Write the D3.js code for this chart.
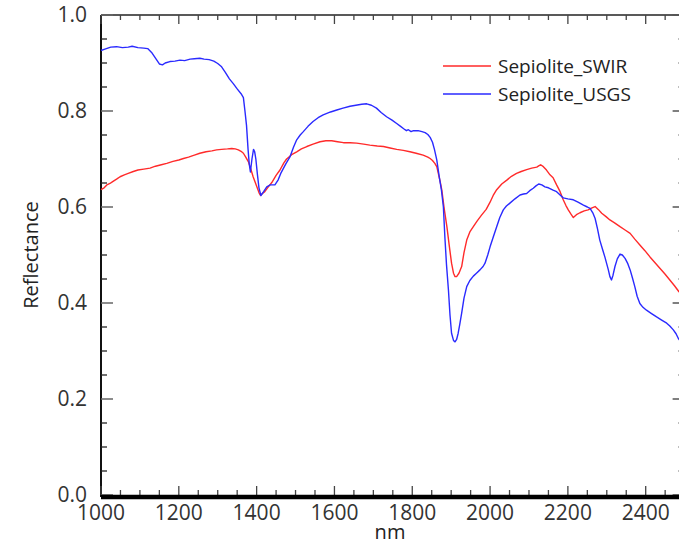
<!DOCTYPE html>
<html><head><meta charset="utf-8">
<script src="https://cdn.jsdelivr.net/npm/d3@7"></script>
<style>body{margin:0;background:#fff;}svg{display:block;}</style>
</head><body>
<script>
const seriesNames = ["Sepiolite_SWIR", "Sepiolite_USGS"];
const seriesColors = ["#ff2a2a", "#2a2aff"];
const xTicks = [1000, 1200, 1400, 1600, 1800, 2000, 2200, 2400];
const yTicks = [0.0, 0.2, 0.4, 0.6, 0.8, 1.0];

const swirNm = [1000,1008,1015,1023,1030,1040,1049,1060,1070,1083,1095,1110,1126,1140,1155,1169,1185,1200,1212,1225,1240,1254,1270,1285,1297,1310,1325,1336,1345,1353,1360,1366,1372,1379,1385,1391,1397,1402,1406,1410,1415,1421,1430,1439,1450,1460,1470,1477,1490,1503,1515,1529,1545,1563,1578,1593,1608,1623,1640,1657,1675,1691,1710,1726,1743,1760,1777,1794,1810,1828,1840,1846,1852,1858,1863,1867,1872,1876,1882,1889,1895,1901,1906,1910,1914,1920,1927,1933,1940,1948,1957,1967,1978,1990,2000,2008,2017,2030,2043,2055,2068,2080,2094,2107,2120,2126,2130,2137,2145,2154,2162,2171,2180,2188,2195,2201,2208,2214,2222,2231,2242,2252,2262,2270,2278,2287,2298,2308,2320,2334,2347,2360,2372,2385,2398,2411,2424,2437,2450,2462,2474,2485,2500];
const swirVal = [0.636,0.640,0.646,0.649,0.653,0.658,0.663,0.667,0.670,0.674,0.677,0.679,0.681,0.685,0.688,0.691,0.695,0.698,0.701,0.704,0.708,0.712,0.715,0.717,0.719,0.720,0.721,0.722,0.721,0.719,0.716,0.712,0.704,0.694,0.679,0.663,0.650,0.639,0.630,0.624,0.628,0.632,0.642,0.651,0.666,0.677,0.692,0.700,0.709,0.715,0.721,0.726,0.731,0.736,0.738,0.738,0.736,0.734,0.734,0.733,0.731,0.729,0.727,0.726,0.723,0.720,0.718,0.715,0.712,0.708,0.704,0.701,0.697,0.691,0.684,0.670,0.652,0.635,0.597,0.559,0.520,0.483,0.462,0.455,0.455,0.462,0.476,0.505,0.531,0.548,0.559,0.571,0.583,0.595,0.610,0.624,0.636,0.648,0.656,0.664,0.670,0.674,0.678,0.681,0.683,0.686,0.688,0.684,0.677,0.667,0.661,0.646,0.632,0.615,0.603,0.594,0.585,0.578,0.584,0.588,0.592,0.594,0.598,0.601,0.595,0.587,0.580,0.573,0.567,0.559,0.552,0.545,0.533,0.521,0.509,0.496,0.484,0.472,0.460,0.448,0.436,0.424,0.412];

const usgsNm = [1000,1010,1025,1040,1055,1070,1080,1095,1110,1120,1130,1140,1150,1158,1165,1177,1190,1203,1215,1229,1240,1254,1265,1278,1290,1300,1310,1320,1330,1340,1350,1360,1366,1370,1374,1378,1381,1384,1388,1392,1395,1398,1402,1406,1411,1418,1426,1435,1447,1455,1462,1475,1486,1495,1503,1512,1520,1532,1545,1558,1571,1590,1606,1622,1640,1655,1670,1683,1695,1708,1720,1734,1748,1760,1770,1778,1785,1790,1797,1803,1815,1825,1833,1840,1846,1852,1857,1863,1869,1875,1880,1884,1888,1893,1897,1901,1906,1910,1914,1918,1922,1927,1933,1940,1948,1957,1965,1974,1982,1987,1994,2000,2008,2017,2025,2034,2042,2051,2064,2077,2086,2094,2102,2111,2118,2125,2133,2141,2150,2162,2171,2180,2188,2200,2214,2226,2240,2250,2257,2264,2270,2276,2282,2289,2295,2304,2308,2312,2316,2321,2327,2334,2340,2347,2354,2360,2366,2372,2378,2385,2393,2402,2415,2428,2440,2454,2462,2471,2478,2484,2492,2500];
const usgsVal = [0.926,0.929,0.933,0.934,0.932,0.933,0.935,0.932,0.931,0.930,0.922,0.910,0.898,0.896,0.900,0.903,0.904,0.906,0.905,0.908,0.909,0.910,0.908,0.907,0.904,0.899,0.892,0.880,0.867,0.857,0.846,0.836,0.828,0.800,0.770,0.720,0.690,0.673,0.700,0.720,0.715,0.700,0.668,0.640,0.624,0.632,0.642,0.646,0.646,0.656,0.670,0.690,0.705,0.725,0.740,0.750,0.757,0.768,0.778,0.786,0.792,0.798,0.802,0.806,0.810,0.812,0.814,0.815,0.812,0.806,0.797,0.788,0.781,0.774,0.768,0.763,0.759,0.761,0.757,0.759,0.759,0.757,0.755,0.751,0.745,0.735,0.720,0.698,0.665,0.635,0.600,0.535,0.480,0.427,0.375,0.337,0.322,0.319,0.324,0.337,0.355,0.379,0.410,0.434,0.447,0.456,0.462,0.469,0.476,0.483,0.500,0.517,0.537,0.559,0.578,0.594,0.602,0.608,0.617,0.625,0.627,0.628,0.634,0.639,0.644,0.648,0.646,0.642,0.640,0.635,0.632,0.625,0.619,0.617,0.615,0.610,0.604,0.600,0.597,0.588,0.576,0.555,0.531,0.512,0.496,0.469,0.455,0.448,0.458,0.476,0.492,0.502,0.500,0.493,0.482,0.469,0.452,0.434,0.414,0.399,0.391,0.385,0.378,0.371,0.365,0.358,0.352,0.344,0.336,0.326,0.318,0.310];

const W = 679, H = 542;
const svg = d3.select("body").append("svg").attr("width", W).attr("height", H)
  .style("font-family", "'Open Sans', sans-serif");

const x = d3.scaleLinear().domain([1000, 2400]).range([101, 645.7]);
const y = d3.scaleLinear().domain([0, 1]).range([495, 15]);
const xMax = 2500;
const pL = x(1000), pR = x(xMax), pT = y(1), pB = y(0);

const minorX = d3.range(1000, 2501, 50).filter(v => v % 200 !== 0);
const minorY = d3.range(0, 1.001, 0.05).map(v => +v.toFixed(2)).filter(v => Math.round(v*100) % 20 !== 0);
const tickCol = "#444";

const g = svg.append("g");
g.append("line").attr("x1", pL).attr("x2", pR).attr("y1", pT).attr("y2", pT).attr("stroke", "#222").attr("stroke-width", 1.5);
g.append("line").attr("x1", pR).attr("x2", pR).attr("y1", pT).attr("y2", pB).attr("stroke", "#222").attr("stroke-width", 1.5);
g.append("line").attr("x1", pL).attr("x2", pL).attr("y1", pT).attr("y2", pB + 2).attr("stroke", "#111").attr("stroke-width", 2);

xTicks.forEach(v => {
  g.append("line").attr("x1", x(v)).attr("x2", x(v)).attr("y1", pB).attr("y2", pB - 9).attr("stroke", tickCol).attr("stroke-width", 1.3);
  g.append("line").attr("x1", x(v)).attr("x2", x(v)).attr("y1", pT).attr("y2", pT + 9).attr("stroke", tickCol).attr("stroke-width", 1.3);
});
minorX.forEach(v => {
  g.append("line").attr("x1", x(v)).attr("x2", x(v)).attr("y1", pB).attr("y2", pB - 5).attr("stroke", tickCol).attr("stroke-width", 1.3);
  g.append("line").attr("x1", x(v)).attr("x2", x(v)).attr("y1", pT).attr("y2", pT + 5).attr("stroke", tickCol).attr("stroke-width", 1.3);
});
yTicks.forEach(v => {
  g.append("line").attr("x1", pL).attr("x2", pL + 12).attr("y1", y(v)).attr("y2", y(v)).attr("stroke", "#666").attr("stroke-width", 1.5);
  g.append("line").attr("x1", pR).attr("x2", pR - 12).attr("y1", y(v)).attr("y2", y(v)).attr("stroke", "#555").attr("stroke-width", 1.5);
});
minorY.forEach(v => {
  g.append("line").attr("x1", pL).attr("x2", pL + 6).attr("y1", y(v)).attr("y2", y(v)).attr("stroke", "#222").attr("stroke-width", 1.3);
  g.append("line").attr("x1", pR).attr("x2", pR - 6).attr("y1", y(v)).attr("y2", y(v)).attr("stroke", "#222").attr("stroke-width", 1.3);
});

g.append("line").attr("x1", pL).attr("x2", pR).attr("y1", pB + 2).attr("y2", pB + 2).attr("stroke", "#000").attr("stroke-width", 4.5);

svg.append("g").selectAll("text").data(xTicks).join("text")
  .attr("x", d => x(d)).attr("y", 520).attr("text-anchor", "middle")
  .attr("font-size", 21).attr("fill", "#333").text(d => d);
svg.append("g").selectAll("text").data(yTicks).join("text")
  .attr("x", 87).attr("y", d => y(d)).attr("dy", "0.35em").attr("text-anchor", "end")
  .attr("font-size", 21).attr("fill", "#333").text(d => d.toFixed(1));

svg.append("text").attr("transform", `translate(38,255) rotate(-90)`).attr("text-anchor", "middle")
  .attr("font-size", 20).attr("fill", "#222").text("Reflectance");
svg.append("text").attr("x", 390).attr("y", 539).attr("text-anchor", "middle")
  .attr("font-size", 20).attr("fill", "#222").text("nm");

const line = d3.line().x(d => x(d[0])).y(d => y(d[1]));
const swir = swirNm.map((n, i) => [n, swirVal[i]]);
const usgs = usgsNm.map((n, i) => [n, usgsVal[i]]);
svg.append("path").datum(swir).attr("d", line).attr("fill", "none").attr("stroke", seriesColors[0]).attr("stroke-width", 1.4).attr("stroke-linejoin", "round");
svg.append("path").datum(usgs).attr("d", line).attr("fill", "none").attr("stroke", seriesColors[1]).attr("stroke-width", 1.4).attr("stroke-linejoin", "round");

const leg = svg.append("g");
seriesNames.forEach((name, i) => {
  const ly = 66 + i * 28;
  leg.append("line").attr("x1", 443).attr("x2", 491).attr("y1", ly).attr("y2", ly)
    .attr("stroke", seriesColors[i]).attr("stroke-width", 1.4);
  leg.append("text").attr("x", 498).attr("y", ly).attr("dy", "0.35em")
    .attr("font-size", 19).attr("fill", "#222").text(name);
});
</script>
</body></html>
